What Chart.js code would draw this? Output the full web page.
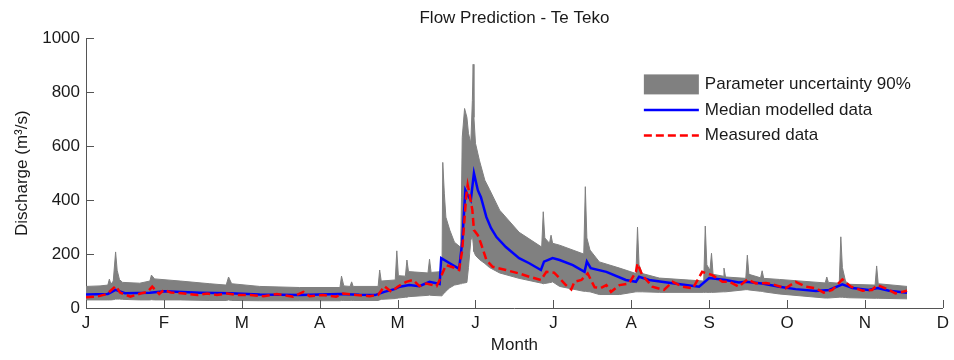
<!DOCTYPE html>
<html>
<head>
<meta charset="utf-8">
<script src="https://cdn.jsdelivr.net/npm/chart.js@4.4.1/dist/chart.umd.min.js"></script>
<style>
  html, body { margin: 0; padding: 0; background: #fff; }
  canvas { display: block; }
</style>
</head>
<body>
<canvas id="myChart" width="954" height="360"></canvas>
<script>
// x is measured in months from the start of January
var monthLabels = ['J', 'F', 'M', 'A', 'M', 'J', 'J', 'A', 'S', 'O', 'N', 'D'];
var yTicks = [0, 200, 400, 600, 800, 1000];
var legendLabels = ['Parameter uncertainty 90%', 'Median modelled data', 'Measured data'];

// 90% parameter uncertainty band
var bandX = [
  0.00, 0.18, 0.28, 0.30, 0.32,
  0.35, 0.38, 0.40, 0.43, 0.47,
  0.69, 0.82, 0.84, 0.88, 1.21,
  1.59, 1.80, 1.83, 1.87, 2.23,
  2.74, 3.26, 3.28, 3.31, 3.39,
  3.41, 3.43, 3.75, 3.77, 3.79,
  3.97, 3.99, 4.01, 4.10, 4.12,
  4.14, 4.39, 4.41, 4.43, 4.57,
  4.58, 4.60, 4.62, 4.67, 4.73,
  4.81, 4.82, 4.83, 4.86, 4.89,
  4.91, 4.94, 4.96, 4.97, 4.98,
  5.00, 5.05, 5.12, 5.18, 5.31,
  5.56, 5.85, 5.87, 5.89, 5.95,
  5.97, 5.99, 6.08, 6.39, 6.41,
  6.43, 6.47, 6.59, 6.85, 7.06,
  7.08, 7.10, 7.14, 7.36, 7.93,
  7.95, 7.97, 8.01, 8.03, 8.05,
  8.18, 8.19, 8.21, 8.47, 8.49,
  8.51, 8.66, 8.68, 8.70, 8.90,
  9.49, 9.51, 9.53, 9.67, 9.69,
  9.71, 9.75, 9.79, 10.13, 10.15,
  10.17, 10.54];
var bandUpper = [
  80, 82, 85, 107, 88,
  100, 208, 140, 105, 95,
  92, 100, 122, 108, 100,
  90, 85, 115, 90, 80,
  76, 76, 118, 82, 80,
  97, 80, 80, 141, 100,
  104, 212, 120, 118, 178,
  135, 130, 181, 132, 135,
  540, 426, 337, 289, 244,
  225, 411, 633, 740, 707,
  648, 611, 770, 904, 707,
  611, 548, 474, 440, 363,
  281, 226, 357, 260, 240,
  270, 240, 233, 200, 450,
  260, 215, 171, 148, 128,
  300, 160, 128, 111, 100,
  304, 160, 140, 203, 125,
  118, 148, 115, 110, 196,
  125, 112, 138, 110, 106,
  93, 115, 95, 92, 264,
  150, 100, 88, 85, 156,
  90, 80];
var bandLower = [
  30, 30, 30, 30, 30,
  31, 33, 33, 33, 32,
  30, 30, 31, 30, 30,
  28, 28, 30, 28, 27,
  27, 27, 28, 28, 28,
  28, 28, 28, 30, 32,
  35, 36, 37, 40, 40,
  42, 47, 48, 47, 45,
  50, 55, 62, 75, 85,
  90, 90, 92, 93, 95,
  150, 250, 270, 240, 210,
  195, 180, 165, 150, 130,
  110, 92, 90, 91, 94,
  95, 97, 80, 62, 62,
  61, 60, 50, 50, 60,
  60, 60, 60, 58, 58,
  58, 58, 58, 58, 58,
  60, 60, 60, 68, 68,
  67, 62, 62, 60, 52,
  37, 37, 37, 40, 40,
  40, 39, 38, 36, 36,
  36, 34];

// median modelled discharge
var medianX = [0.00, 0.28, 0.38, 0.50, 0.82, 1.01, 1.46, 1.85, 2.23, 2.74, 3.26, 3.51, 3.71, 3.83, 3.96, 4.03, 4.15,
  4.28, 4.41, 4.54, 4.56, 4.67, 4.79, 4.83, 4.87, 4.90, 4.94, 4.98, 5.03, 5.07, 5.14, 5.20, 5.27, 5.39, 5.56, 5.69,
  5.84, 5.88, 5.99, 6.08, 6.25, 6.40, 6.43, 6.48, 6.68, 6.93, 7.06, 7.10, 7.23, 7.53, 7.87, 8.00, 8.21, 8.38, 8.47,
  8.68, 8.90, 9.11, 9.37, 9.54, 9.71, 9.84, 10.05, 10.16, 10.31, 10.54];
var medianQ = [50, 52, 67, 55, 57, 62, 57, 55, 50, 48, 52, 49, 48, 60, 70, 79, 85,
  81, 97, 89, 185, 166, 145, 245, 437, 419, 400, 500, 437, 411, 337, 296, 263, 226, 185, 166,
  141, 172, 185, 178, 159, 134, 172, 148, 134, 104, 97, 116, 104, 92, 79, 111, 104, 95, 97,
  91, 79, 70, 63, 67, 88, 74, 67, 74, 64, 57];

// measured discharge
var measuredX = [0.00, 0.14, 0.27, 0.38, 0.44, 0.57, 0.70, 0.79, 0.85, 0.94, 1.00, 1.09, 1.26, 1.43, 1.56, 1.68,
  1.81, 1.94, 2.11, 2.28, 2.45, 2.66, 2.79, 2.87, 3.04, 3.21, 3.30, 3.47, 3.64, 3.75, 3.83, 3.92, 4.00, 4.11, 4.20,
  4.28, 4.37, 4.50, 4.54, 4.62, 4.71, 4.79, 4.83, 4.88, 4.90, 4.93, 4.96, 4.98, 5.03, 5.07, 5.14, 5.22, 5.39, 5.56,
  5.69, 5.84, 5.91, 6.01, 6.08, 6.16, 6.23, 6.27, 6.36, 6.44, 6.53, 6.61, 6.68, 6.74, 6.85, 6.97, 7.06, 7.08, 7.14,
  7.27, 7.42, 7.53, 7.66, 7.79, 7.91, 8.04, 8.17, 8.26, 8.38, 8.49, 8.60, 8.73, 8.85, 8.98, 9.11, 9.24, 9.37, 9.47,
  9.58, 9.71, 9.82, 9.97, 10.09, 10.16, 10.31, 10.39, 10.54];
var measuredQ = [40, 42, 52, 81, 57, 42, 54, 60, 79, 52, 67, 57, 54, 48, 54, 48,
  54, 48, 48, 44, 52, 42, 60, 44, 48, 42, 54, 48, 44, 48, 81, 60, 79, 97, 104,
  81, 91, 81, 104, 159, 151, 141, 215, 412, 456, 412, 363, 289, 270, 240, 178, 153, 141, 128,
  116, 104, 134, 131, 110, 85, 69, 97, 104, 128, 77, 74, 85, 60, 85, 91, 134, 165, 122,
  79, 67, 97, 79, 73, 134, 122, 97, 97, 79, 106, 91, 93, 85, 73, 97, 79, 73, 57,
  67, 106, 79, 64, 67, 85, 67, 54, 64];

var FONT = 'Arial, "Liberation Sans", sans-serif';
var TEXT = '#1a1a1a';
var AXIS = '#555';
Chart.defaults.font.family = FONT;
Chart.defaults.font.size = 17;
Chart.defaults.color = TEXT;

function pts(xs, ys) {
  return xs.map(function (x, i) { return { x: x, y: ys[i] }; });
}

// MATLAB-style ticks that point into the plot
var innerTicks = {
  id: 'innerTicks',
  afterDatasetsDraw: function (chart) {
    var ctx = chart.ctx, a = chart.chartArea;
    var xs = chart.scales.x, ys = chart.scales.y;
    ctx.save();
    ctx.strokeStyle = AXIS;
    ctx.lineWidth = 1;
    ctx.beginPath();
    xs.ticks.forEach(function (t) {
      var px = Math.round(xs.getPixelForValue(t.value)) + 0.5;
      ctx.moveTo(px, a.bottom);
      ctx.lineTo(px, a.bottom - 8);
    });
    ys.ticks.forEach(function (t) {
      var py = Math.round(ys.getPixelForValue(t.value)) + 0.5;
      ctx.moveTo(a.left, py);
      ctx.lineTo(a.left + 8, py);
    });
    ctx.stroke();
    ctx.restore();
  }
};

// legend in the upper right of the axes
var cornerLegend = {
  id: 'cornerLegend',
  afterDraw: function (chart) {
    var ctx = chart.ctx, a = chart.chartArea;
    var ds = chart.data.datasets;
    var x0 = a.right - 299, y0 = a.top + 46, rowH = 25.5, w = 55;
    ctx.save();
    ctx.font = '17px ' + FONT;
    ctx.textBaseline = 'middle';
    legendLabels.forEach(function (txt, i) {
      var cy = y0 + i * rowH;
      if (i === 0) {
        ctx.fillStyle = ds[3].backgroundColor;
        ctx.fillRect(x0, cy - 10, w, 20);
      } else {
        var d = i === 1 ? ds[1] : ds[0];
        ctx.strokeStyle = d.borderColor;
        ctx.lineWidth = d.borderWidth;
        ctx.setLineDash(d.borderDash || []);
        ctx.beginPath();
        ctx.moveTo(x0, cy);
        ctx.lineTo(x0 + w, cy);
        ctx.stroke();
        ctx.setLineDash([]);
      }
      ctx.fillStyle = TEXT;
      ctx.fillText(txt, x0 + w + 6, cy);
    });
    ctx.restore();
  }
};

var ctx = document.getElementById('myChart').getContext('2d');

var myChart = new Chart(ctx, {
  type: 'line',
  data: {
    datasets: [{
      label: legendLabels[2],
      data: pts(measuredX, measuredQ),
      borderColor: '#ff0000',
      borderWidth: 2.5,
      borderDash: [8, 4],
      pointRadius: 0,
      fill: false,
      order: 0
    }, {
      label: legendLabels[1],
      data: pts(medianX, medianQ),
      borderColor: '#0000ff',
      borderWidth: 2.5,
      pointRadius: 0,
      fill: false,
      order: 1
    }, {
      label: 'lower',
      data: pts(bandX, bandLower),
      borderColor: '#808080',
      borderWidth: 1,
      pointRadius: 0,
      fill: false,
      order: 2
    }, {
      label: legendLabels[0],
      data: pts(bandX, bandUpper),
      borderColor: '#808080',
      backgroundColor: '#808080',
      borderWidth: 1,
      pointRadius: 0,
      fill: '-1',
      order: 3
    }]
  },
  options: {
    animation: false,
    responsive: false,
    layout: { padding: { left: 12, right: 10, top: 0, bottom: 0 } },
    plugins: {
      legend: { display: false },
      tooltip: { enabled: false },
      title: {
        display: true,
        text: 'Flow Prediction - Te Teko',
        fullSize: false,
        color: TEXT,
        font: { size: 17, weight: 'normal' },
        padding: { top: 8, bottom: 10 }
      }
    },
    scales: {
      x: {
        type: 'linear',
        min: 0,
        max: 11,
        grid: { display: false, drawTicks: false },
        border: { display: true, color: AXIS, width: 1 },
        afterBuildTicks: function (s) {
          s.ticks = monthLabels.map(function (m, i) { return { value: i }; });
        },
        ticks: {
          autoSkip: false,
          maxRotation: 0,
          padding: 5,
          callback: function (v) { return monthLabels[v]; }
        },
        title: { display: true, text: 'Month', padding: { top: 0, bottom: 4 } },
        afterFit: function (s) { s.height = 52; }
      },
      y: {
        min: 0,
        max: 1000,
        grid: { display: false, drawTicks: false },
        border: { display: true, color: AXIS, width: 1 },
        afterBuildTicks: function (s) {
          s.ticks = yTicks.map(function (v) { return { value: v }; });
        },
        ticks: {
          padding: 6,
          callback: function (v) { return String(v); }
        },
        title: { display: true, text: 'Discharge (m\u00b3/s)', padding: { top: 0, bottom: 0 } },
        afterFit: function (s) { s.width = 74; }
      }
    }
  },
  plugins: [innerTicks, cornerLegend]
});
</script>
</body>
</html>
